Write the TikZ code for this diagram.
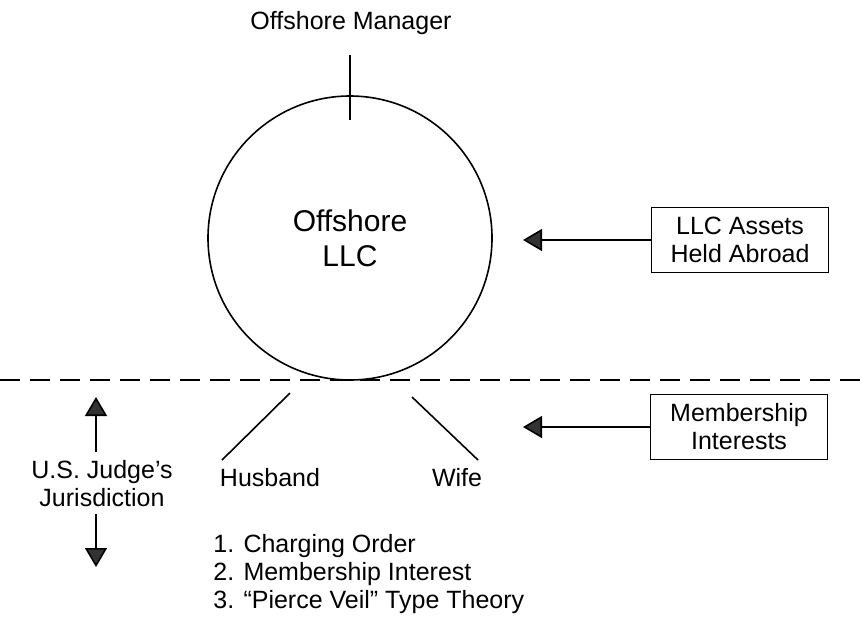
\documentclass[tikz,border=0pt]{standalone}
\usepackage{fontspec}
\setmainfont{Liberation Sans}
\usetikzlibrary{arrows.meta,positioning}
\tikzset
{
    label/.style   = {align=center, inner sep=1pt, font=\fontsize{12.5}{14}\selectfont},
    llcnode/.style = {circle, draw=black, line width=0.8pt, minimum size=142pt, align=center, font=\fontsize{15}{17.5}\selectfont},
    assetbox/.style = {rectangle, draw=black, line width=0.6pt, minimum width=88.5pt, minimum height=32.5pt, align=center, font=\fontsize{12.5}{14}\selectfont},
    arrow/.style   = {line width=0.8pt, -{Triangle[length=9.5pt,width=11pt,fill=black!80]}},
    tie/.style     = {line width=0.8pt},
    border/.style  = {line width=0.8pt, dash pattern=on 10pt off 5pt}
}

\begin{document}
\begin{tikzpicture}[x=0.5pt, y=-0.5pt]

   \useasboundingbox (0,0) rectangle (865,617);

   \node (mgr)    [label]     at (351, 23)   {Offshore Manager};
   \node (llc)    [llcnode]   at (350, 238)  {Offshore\\LLC};
   \node (assets) [assetbox]  at (740, 240)  {LLC Assets\\Held Abroad};
   \node (member) [assetbox]  at (739, 427)  {Membership\\Interests};
   \node (hus)    [label]     at (270, 478)  {Husband};
   \node (wife)   [label]     at (457, 478)  {Wife};
   \node (judge)  [label]     at (102, 484)  {U.S. Judge's\\Jurisdiction};
   \node (orders) [label, align=left, anchor=north west] at (211, 532)
        {1. Charging Order\\2. Membership Interest\\3. ``Pierce Veil'' Type Theory};

   \coordinate (mtop)   at (350, 55);
   \coordinate (mbot)   at (350, 120);
   \coordinate (hs)     at (290, 393);
   \coordinate (he)     at (222, 460);
   \coordinate (ws)     at (412, 397);
   \coordinate (we)     at (478, 460);
   \coordinate (atip)   at (523, 240);
   \coordinate (itip)   at (523, 427);
   \coordinate (jup)    at (96, 397);
   \coordinate (jupt)   at (96, 452);
   \coordinate (jdn)    at (96, 567);
   \coordinate (jdnt)   at (96, 514);
   \coordinate (bl)     at (0, 380);
   \coordinate (br)     at (865, 380);

   \draw[border] (bl) -- (br);

   \path
      (mtop)          edge[tie]    (mbot)
      (hs)            edge[tie]    (he)
      (ws)            edge[tie]    (we)
      (assets.west)   edge[arrow]  (atip)
      (member.west)   edge[arrow]  (itip)
      (jupt)          edge[arrow]  (jup)
      (jdnt)          edge[arrow]  (jdn);
\end{tikzpicture}
\end{document}
